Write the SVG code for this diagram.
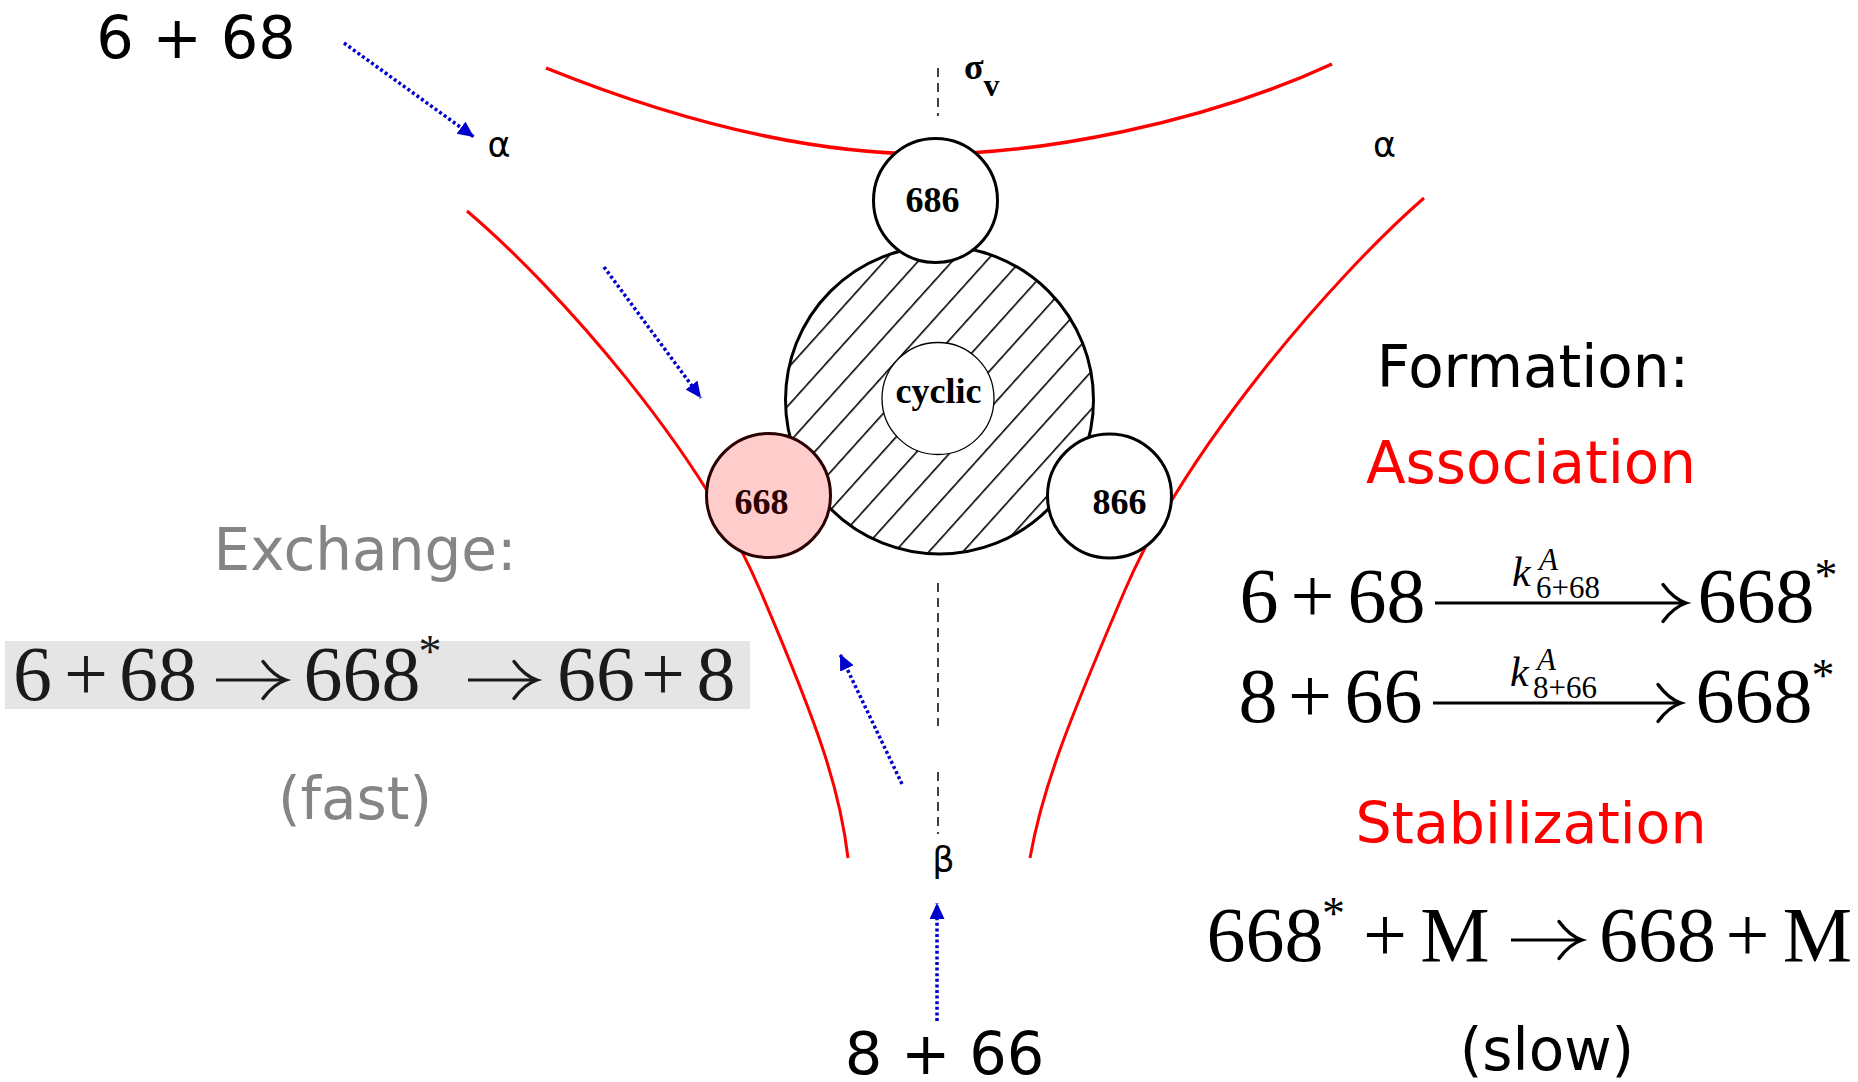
<svg xmlns="http://www.w3.org/2000/svg" xmlns:xlink="http://www.w3.org/1999/xlink" width="1858" height="1082" viewBox="0 0 1858 1082">
<style>
.sans{font-family:"DejaVu Sans","Verdana",sans-serif;}
.serif{font-family:"Liberation Serif","Times New Roman",serif;}
.big{font-size:58px;}
.eq{font-family:"Liberation Serif","Times New Roman",serif;font-size:78px;text-anchor:middle;}
.sup{font-family:"Liberation Serif","Times New Roman",serif;font-size:46px;text-anchor:middle;}
.node{font-family:"Liberation Serif","Times New Roman",serif;font-weight:bold;font-size:36px;text-anchor:middle;}
.greek{font-family:"DejaVu Sans",sans-serif;font-size:35px;text-anchor:middle;fill:#000;}
.red{fill:none;stroke:#ff0000;}
.blue{fill:none;stroke:#0000cd;stroke-width:3.5;stroke-dasharray:3 2.6;marker-end:url(#ah);}
.dash{fill:none;stroke:#000;stroke-width:1.5;stroke-dasharray:9 6;}
.ring{stroke:#000;stroke-width:3;}
.shaft{stroke-width:3;fill:none;}
.barb{fill:none;stroke-width:3.4;stroke-linecap:round;}
</style>
<defs>
<marker id="ah" markerUnits="userSpaceOnUse" markerWidth="18" markerHeight="18" refX="16" refY="7.5" orient="auto">
<path d="M0,0 L16,7.5 L0,15 z" fill="#0000cd"/>
</marker>
<pattern id="hatch" patternUnits="userSpaceOnUse" width="25.3" height="20" patternTransform="rotate(42)">
<rect x="0" y="0" width="25.3" height="20" fill="#fff"/>
<line x1="22.2" y1="-1" x2="22.2" y2="21" stroke="#000" stroke-width="1.6"/>
</pattern>
<path id="head" d="M-23,-18.5 C-16,-9 -9,-3 0,0 C-9,3 -16,9 -23,18.5"/>
</defs>
<rect x="0" y="0" width="1858" height="1082" fill="#fff"/>

<g id="surface">
<path class="red" stroke-width="3.5" d="M546,68 C700,130 830,155 936,154 C1040,153 1200,125 1332,64"/>
<path class="red" stroke-width="3" d="M467,211 C560,290 700,450 760,590 S840,790 848,858"/>
<path class="red" stroke-width="3" d="M1424,198 C1330,280 1185,450 1125,590 S1042,790 1030,858"/>
</g>

<g id="axes">
<line class="dash" x1="938" y1="68" x2="938" y2="116"/>
<line class="dash" x1="938" y1="583" x2="938" y2="726"/>
<line class="dash" x1="938" y1="772" x2="938" y2="834"/>
</g>

<g id="cyclic-region">
<circle class="ring" cx="939.5" cy="400" r="154" fill="url(#hatch)"/>
</g>
<g id="node-cyclic">
<circle cx="938" cy="398.5" r="56" fill="#fff" stroke="#000" stroke-width="1.3"/>
<text class="node" x="938.5" y="403" font-size="37">cyclic</text>
</g>
<g id="node-686">
<circle class="ring" cx="935.5" cy="200.5" r="62" fill="#fff"/>
<text class="node" x="932.5" y="212">686</text>
</g>
<g id="node-668">
<circle cx="768.5" cy="495.5" r="62" fill="#ffcccc" stroke="#2a0000" stroke-width="3"/>
<text class="node" x="761.5" y="514" fill="#2a0000">668</text>
</g>
<g id="node-866">
<circle class="ring" cx="1109.5" cy="496" r="62" fill="#fff"/>
<text class="node" x="1119.5" y="514">866</text>
</g>

<g id="connectors">
<line class="blue" x1="344" y1="43" x2="474" y2="137"/>
<line class="blue" x1="604" y1="267" x2="701" y2="398"/>
<line class="blue" x1="902" y1="784" x2="840" y2="654"/>
<line class="blue" x1="937" y1="1021" x2="937" y2="903"/>
</g>

<g id="labels">
<text class="greek" x="499" y="157">α</text>
<text class="greek" x="1384.5" y="157">α</text>
<text class="greek" x="943.5" y="872">β</text>
<text class="serif" font-weight="bold" x="964" y="79"><tspan font-size="36">σ</tspan><tspan font-size="32" dy="17">v</tspan></text>
<text class="sans" font-size="59" text-anchor="middle" x="196" y="58">6 + 68</text>
<text class="sans" font-size="59" text-anchor="middle" x="944.5" y="1074">8 + 66</text>
</g>

<g id="exchange">
<text class="sans big" text-anchor="middle" x="365" y="570" fill="#858585">Exchange:</text>
<rect x="5" y="641" width="745" height="68" fill="#e5e5e5"/>
<g fill="#1a1a1a">
<text class="eq" x="32.5" y="700">6</text>
<text class="eq" x="86" y="700">+</text>
<text class="eq" x="158" y="700">68</text>
<text class="eq" x="362" y="700">668</text>
<text class="sup" x="430" y="667">*</text>
<text class="eq" x="596" y="700">66</text>
<text class="eq" x="663" y="700">+</text>
<text class="eq" x="716" y="700">8</text>
</g>
<g stroke="#1a1a1a">
<line class="shaft" x1="216" y1="680" x2="284" y2="680"/>
<use xlink:href="#head" href="#head" class="barb" x="286" y="680"/>
<line class="shaft" x1="468" y1="680" x2="535" y2="680"/>
<use xlink:href="#head" href="#head" class="barb" x="537" y="680"/>
</g>
<text class="sans big" text-anchor="middle" x="355" y="819" fill="#858585">(fast)</text>
</g>

<g id="formation">
<text class="sans big" text-anchor="middle" x="1533" y="387" fill="#000">Formation:</text>
<text class="sans big" text-anchor="middle" x="1531" y="483" fill="#ff0000">Association</text>

<text class="eq" x="1259" y="622">6</text>
<text class="eq" x="1312.5" y="622">+</text>
<text class="eq" x="1386.5" y="622">68</text>
<g stroke="#000">
<line class="shaft" x1="1435" y1="603" x2="1684" y2="603"/>
<use xlink:href="#head" href="#head" class="barb" x="1686" y="603"/>
</g>
<text class="serif" font-style="italic"><tspan font-size="42" x="1512" y="586">k</tspan><tspan font-size="31" x="1539" y="570">A</tspan><tspan font-style="normal" font-size="31" x="1536" y="598">6+68</tspan></text>
<text class="eq" x="1756" y="622">668</text>
<text class="sup" x="1826" y="591">*</text>

<text class="eq" x="1258" y="722">8</text>
<text class="eq" x="1310" y="722">+</text>
<text class="eq" x="1383.5" y="722">66</text>
<g stroke="#000">
<line class="shaft" x1="1433" y1="703" x2="1679" y2="703"/>
<use xlink:href="#head" href="#head" class="barb" x="1681" y="703"/>
</g>
<text class="serif" font-style="italic"><tspan font-size="42" x="1510" y="686">k</tspan><tspan font-size="31" x="1537" y="670">A</tspan><tspan font-style="normal" font-size="31" x="1533" y="698">8+66</tspan></text>
<text class="eq" x="1754" y="722">668</text>
<text class="sup" x="1823" y="691">*</text>

<text class="sans" font-size="57" text-anchor="middle" x="1531" y="843" fill="#ff0000">Stabilization</text>
<text class="eq" x="1265" y="961">668</text>
<text class="sup" x="1333.5" y="929">*</text>
<text class="eq" x="1385" y="961">+</text>
<text class="eq" x="1455" y="961">M</text>
<g stroke="#000">
<line class="shaft" x1="1511" y1="940" x2="1580" y2="940"/>
<use xlink:href="#head" href="#head" class="barb" x="1582" y="940"/>
</g>
<text class="eq" x="1657.5" y="961">668</text>
<text class="eq" x="1747.5" y="961">+</text>
<text class="eq" x="1817.5" y="961">M</text>
<text class="sans big" text-anchor="middle" x="1547" y="1070" fill="#000">(slow)</text>
</g>
</svg>
